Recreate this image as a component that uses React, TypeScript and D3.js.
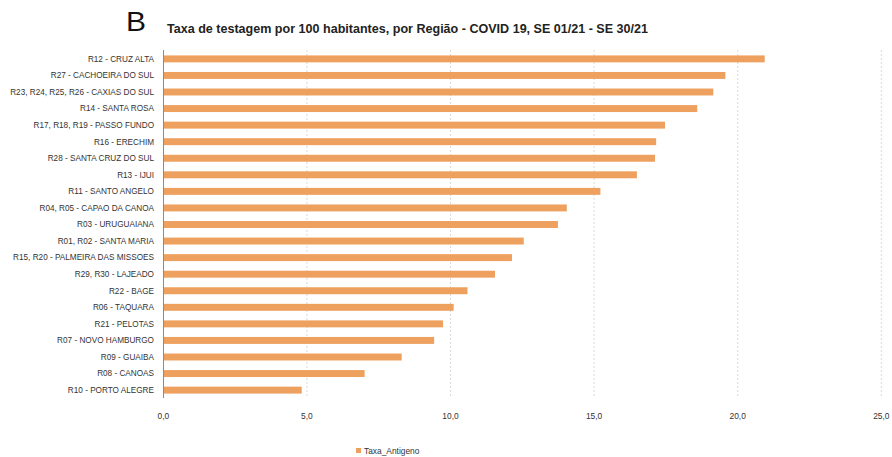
import React from "react";
import * as d3 from "d3";

const categories = [
  "R12 - CRUZ ALTA",
  "R27 - CACHOEIRA DO SUL",
  "R23, R24, R25, R26 - CAXIAS DO SUL",
  "R14 - SANTA ROSA",
  "R17, R18, R19 - PASSO FUNDO",
  "R16 - ERECHIM",
  "R28 - SANTA CRUZ DO SUL",
  "R13 - IJUI",
  "R11 - SANTO ANGELO",
  "R04, R05 - CAPAO DA CANOA",
  "R03 - URUGUAIANA",
  "R01, R02 - SANTA MARIA",
  "R15, R20 - PALMEIRA DAS MISSOES",
  "R29, R30 - LAJEADO",
  "R22 - BAGE",
  "R06 - TAQUARA",
  "R21 - PELOTAS",
  "R07 - NOVO HAMBURGO",
  "R09 - GUAIBA",
  "R08 - CANOAS",
  "R10 - PORTO ALEGRE",
];

const values = [
  20.94, 19.57, 19.15, 18.59, 17.47, 17.16, 17.12, 16.49, 15.22, 14.05, 13.74,
  12.55, 12.14, 11.55, 10.59, 10.11, 9.74, 9.43, 8.3, 7.01, 4.82,
];

const xTicks = [0, 5, 10, 15, 20, 25];
const seriesName = "Taxa_Antigeno";
const title =
  "Taxa de testagem por 100 habitantes, por Região - COVID 19, SE 01/21 - SE 30/21";
const panelLabel = "B";

const W = 892;
const H = 457;
const FONT = "'Liberation Sans Narrow', 'Liberation Sans', Arial, sans-serif";

export default function App() {
  const x = d3.scaleLinear().domain([0, 25]).range([163.3, 881.3]);
  const y = d3
    .scaleBand<string>()
    .domain(categories)
    .range([50.6, 398.4])
    .paddingInner(0.58)
    .paddingOuter(0.29);
  const fmt = (v: number) => d3.format(".1f")(v).replace(".", ",");
  const barColor = "#EEA05F";

  return (
    <svg
      width={W}
      height={H}
      style={{ position: "absolute", left: 0, top: 0, background: "#fff" }}
    >
      <text
        x={126}
        y={31}
        fontFamily={FONT}
        fontSize={28}
        fill="#111"
        textLength={20}
        lengthAdjust="spacingAndGlyphs"
      >
        {panelLabel}
      </text>
      <text
        x={167}
        y={33}
        fontFamily={FONT}
        fontSize={12.5}
        fontWeight="bold"
        fill="#222"
        textLength={481}
        lengthAdjust="spacingAndGlyphs"
      >
        {title}
      </text>

      {xTicks.slice(1).map((t) => (
        <line
          key={"g" + t}
          x1={x(t)}
          x2={x(t)}
          y1={50}
          y2={398}
          stroke="#d9d9d9"
          strokeWidth={1}
          strokeDasharray="2,2"
        />
      ))}

      {categories.map((c, i) => (
        <rect
          key={c}
          x={x(0)}
          y={y(c)!}
          width={x(values[i]) - x(0)}
          height={y.bandwidth()}
          fill={barColor}
        />
      ))}

      <line x1={163.5} x2={163.5} y1={50} y2={398} stroke="#8c8c8c" strokeWidth={1} />

      {categories.map((c) => (
        <text
          key={"l" + c}
          x={154}
          y={y(c)! + y.bandwidth() / 2}
          dy="0.35em"
          textAnchor="end"
          fontFamily={FONT}
          fontSize={8.2}
          fill="#333"
        >
          {c}
        </text>
      ))}

      {xTicks.map((t) => (
        <text
          key={"t" + t}
          x={x(t)}
          y={419}
          textAnchor="middle"
          fontFamily={FONT}
          fontSize={8.4}
          fill="#333"
        >
          {fmt(t)}
        </text>
      ))}

      <rect x={356} y={448} width={5} height={5} fill={barColor} />
      <text x={364} y={454} fontFamily={FONT} fontSize={8.4} fill="#333">
        {seriesName}
      </text>
    </svg>
  );
}
